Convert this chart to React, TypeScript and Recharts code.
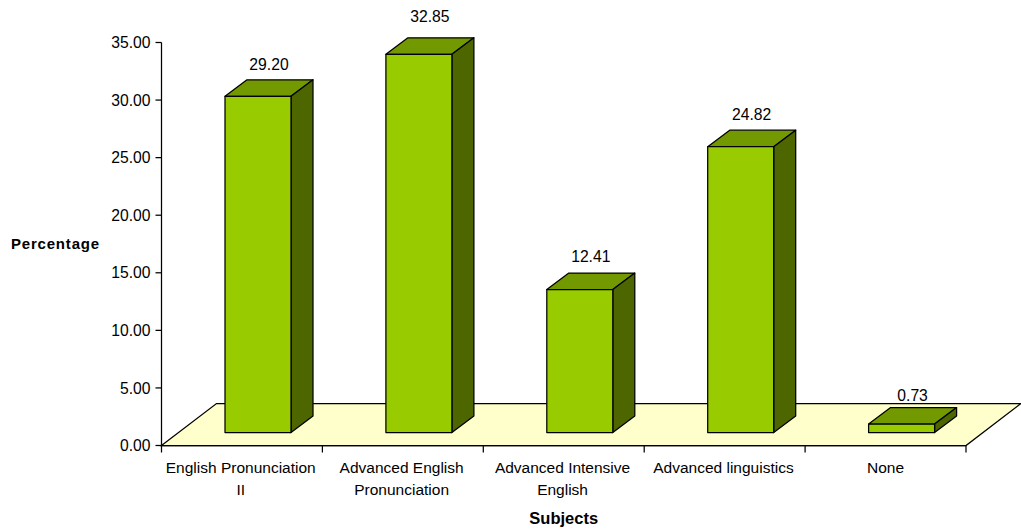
import React from 'react';
import { BarChart, Bar, XAxis, YAxis, ReferenceArea, LabelList } from 'recharts';

const categories = [
  'English Pronunciation II',
  'Advanced English Pronunciation',
  'Advanced Intensive English',
  'Advanced linguistics',
  'None',
];
const tickLines = [
  ['English Pronunciation', 'II'],
  ['Advanced English', 'Pronunciation'],
  ['Advanced Intensive', 'English'],
  ['Advanced linguistics'],
  ['None'],
];
const percentages = [29.2, 32.85, 12.41, 24.82, 0.73];
const yTicks = [0, 5, 10, 15, 20, 25, 30, 35];

const rows = categories.map((name, i) => ({ name, value: percentages[i] }));

const FONT = '"Liberation Sans", Arial, sans-serif';
const CHART_W = 1021;
const CHART_H = 530;
const AXIS_W = 161.5;
const RIGHT = 55;
const BAND = (CHART_W - AXIS_W - RIGHT) / categories.length;
const LINE = 1.25;
const DEPTH_X = 22;
const DEPTH_Y = 16.5;
// bars stand on the floor, a little inside the front edge
const SHIFT_X = 16.5;
const SHIFT_Y = 13;
const FLOOR_X = 55;
const FLOOR_Y = 42;
// space between each value label and the top of its box
const LABEL_GAPS = [10, 15.5, 11, 10, 7];

const Floor = (props: any) => {
  const { x, y, width, height } = props;
  const b = y + height;
  const pts = [
    [x, b],
    [x + FLOOR_X, b - FLOOR_Y],
    [x + width + FLOOR_X, b - FLOOR_Y],
    [x + width, b],
  ];
  return <polygon points={pts.map((p) => p.join(',')).join(' ')} fill="#FFFFCC" stroke="#000" strokeWidth={LINE} />;
};

const Box = (props: any) => {
  const { x, y, width, height } = props;
  const l = x + SHIFT_X;
  const r = l + width;
  const t = y - SHIFT_Y;
  const b = t + height;
  return (
    <g stroke="#000" strokeWidth={LINE} strokeLinejoin="round">
      <polygon
        points={`${l},${t} ${l + DEPTH_X},${t - DEPTH_Y} ${r + DEPTH_X},${t - DEPTH_Y} ${r},${t}`}
        fill="#739900"
      />
      <polygon
        points={`${r},${t} ${r + DEPTH_X},${t - DEPTH_Y} ${r + DEPTH_X},${b - DEPTH_Y} ${r},${b}`}
        fill="#4D6600"
      />
      <rect x={l} y={t} width={width} height={height} fill="#99CC00" />
    </g>
  );
};

const ValueLabel = (props: any) => {
  const { x, y, width, value, index } = props;
  return (
    <text
      x={x + SHIFT_X + (width + DEPTH_X) / 2}
      y={y - SHIFT_Y - DEPTH_Y - LABEL_GAPS[index]}
      textAnchor="middle"
      fontFamily={FONT}
      fontSize={15.7}
      fill="#000"
    >
      {Number(value).toFixed(2)}
    </text>
  );
};

// label at the band centre, tick marks on the band edges
const CategoryTick = (props: any) => {
  const { x, y, index } = props;
  const edge = x - BAND / 2;
  const labelX = index === categories.length - 1 ? x : x - 1.2;
  return (
    <g>
      <line x1={edge} x2={edge} y1={y} y2={y + 7} stroke="#000" strokeWidth={LINE} />
      {index === categories.length - 1 && (
        <line x1={x + BAND / 2} x2={x + BAND / 2} y1={y} y2={y + 7} stroke="#000" strokeWidth={LINE} />
      )}
      <text x={labelX} y={y} textAnchor="middle" fontFamily={FONT} fontSize={15.5} fill="#000">
        {tickLines[index].map((line, i) => (
          <tspan key={line} x={labelX} dy={i === 0 ? 27 : 22.5}>
            {line}
          </tspan>
        ))}
      </text>
    </g>
  );
};

export default function App() {
  return (
    <div style={{ position: 'absolute', left: 0, top: 0, width: CHART_W, height: CHART_H, background: '#fff' }}>
      <BarChart
        width={CHART_W}
        height={CHART_H}
        data={rows}
        margin={{ top: 42.5, right: RIGHT, bottom: 0, left: 0 }}
        barSize={66}
      >
        <XAxis
          dataKey="name"
          height={84.5}
          interval={0}
          axisLine={{ stroke: '#000', strokeWidth: LINE }}
          tickLine={false}
          tickSize={0}
          tickMargin={0}
          tick={<CategoryTick />}
          label={{
            value: 'Subjects',
            position: 'insideBottom',
            offset: 6,
            style: { fontFamily: FONT, fontSize: 16.5, fontWeight: 700, fill: '#000' },
          }}
        />
        <YAxis
          width={AXIS_W}
          domain={[0, 35]}
          ticks={yTicks}
          interval={0}
          axisLine={{ stroke: '#000', strokeWidth: LINE }}
          tickLine={{ stroke: '#000', strokeWidth: LINE }}
          tickSize={6}
          tickMargin={5}
          tickFormatter={(v: number) => v.toFixed(2)}
          tick={{ fontFamily: FONT, fontSize: 15.7, fill: '#000' }}
          label={{
            value: 'Percentage',
            position: 'insideLeft',
            offset: 11,
            style: { fontFamily: FONT, fontSize: 15, fontWeight: 700, letterSpacing: 0.8, fill: '#000' },
          }}
        />
        <ReferenceArea y1={0} y2={35} shape={<Floor />} />
        <Bar dataKey="value" shape={<Box />} isAnimationActive={false}>
          <LabelList dataKey="value" content={<ValueLabel />} />
        </Bar>
      </BarChart>
    </div>
  );
}
